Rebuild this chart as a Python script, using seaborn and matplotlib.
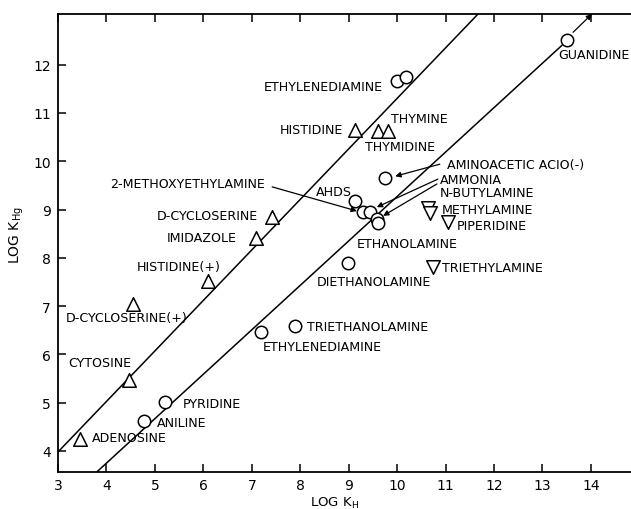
import numpy as np
import pandas as pd
import matplotlib
matplotlib.use("Agg")
import matplotlib.pyplot as plt
import seaborn as sns

# points (log K_H, log K_Hg)
tri_x = [3.45, 4.47, 4.55, 6.10, 7.08, 7.42, 9.13, 9.60, 9.81]
tri_y = [4.25, 5.48, 7.05, 7.52, 8.42, 8.85, 10.65, 10.62, 10.62]

circ_x = [4.78, 5.20, 7.19, 7.89, 8.99, 9.13, 9.30, 9.44, 9.58, 9.60, 9.75, 9.99, 10.18, 13.50]
circ_y = [4.62, 5.02, 6.47, 6.58, 7.90, 9.18, 8.95, 8.95, 8.80, 8.72, 9.65, 11.67, 11.74, 12.51]

inv_x = [10.64, 10.68, 11.05, 10.74]
inv_y = [9.03, 8.92, 8.74, 7.81]

# the two correlation lines (start x, start y, end x, end y)
upper_line = [3.0, 3.98, 11.67, 13.05]
lower_line = [3.80, 3.565, 13.40, 12.40]

x_ticks = list(range(3, 15))
y_ticks = list(range(4, 13))

label_text = ["ADENOSINE", "ANILINE", "PYRIDINE", "CYTOSINE", "D-CYCLOSERINE(+)",
              "HISTIDINE(+)", "IMIDAZOLE", "D-CYCLOSERINE", "2-METHOXYETHYLAMINE",
              "HISTIDINE", "ETHYLENEDIAMINE", "THYMINE", "THYMIDINE", "AHDS",
              "AMINOACETIC ACIO(-)", "AMMONIA", "N-BUTYLAMINE", "METHYLAMINE",
              "PIPERIDINE", "ETHANOLAMINE", "TRIETHYLAMINE", "DIETHANOLAMINE",
              "TRIETHANOLAMINE", "ETHYLENEDIAMINE", "GUANIDINE"]

# layout: where each label sits (x, y, horizontal alignment)
label_pos = [(3.70, 4.27, "left"), (5.04, 4.58, "left"), (5.58, 4.99, "left"),
             (3.21, 5.84, "left"), (3.17, 6.77, "left"), (4.63, 7.83, "left"),
             (5.25, 8.43, "left"), (5.04, 8.87, "left"), (4.07, 9.55, "left"),
             (8.88, 10.65, "right"), (9.71, 11.54, "right"), (9.87, 10.89, "left"),
             (9.34, 10.31, "left"), (9.07, 9.38, "right"), (11.03, 9.94, "left"),
             (10.88, 9.63, "left"), (10.88, 9.36, "left"), (10.93, 9.01, "left"),
             (11.24, 8.66, "left"), (9.17, 8.29, "left"), (10.93, 7.81, "left"),
             (8.35, 7.50, "left"), (8.14, 6.57, "left"), (7.23, 6.17, "left"),
             (13.33, 12.22, "left")]

# leader arrows: (from x, from y, to x, to y)
arrows = [(7.42, 9.47, 9.17, 8.97),
          (10.88, 9.94, 9.96, 9.69),
          (10.84, 9.63, 9.58, 9.05),
          (10.82, 9.53, 9.71, 8.87),
          (13.63, 12.67, 14.02, 13.05)]

df = pd.concat([
    pd.DataFrame({"x": tri_x, "y": tri_y, "kind": "tri"}),
    pd.DataFrame({"x": circ_x, "y": circ_y, "kind": "circ"}),
    pd.DataFrame({"x": inv_x, "y": inv_y, "kind": "inv"}),
], ignore_index=True)

sns.set_style("ticks")
plt.rcParams["font.family"] = ["DejaVu Sans"]
for key in ["text.color", "axes.labelcolor", "xtick.color", "ytick.color", "axes.edgecolor"]:
    plt.rcParams[key] = "black"

fig = plt.figure(figsize=(6.31, 5.10), dpi=100)
ax = fig.add_axes([58 / 631, 37 / 510, 1 - 58 / 631, 458 / 510])

lw = 1.1
ax.plot(upper_line[::2], upper_line[1::2], color="black", lw=lw, zorder=1)
ax.plot(lower_line[::2], lower_line[1::2], color="black", lw=lw, zorder=1)

marker_map = {"tri": ("^", 95), "circ": ("o", 80), "inv": ("v", 95)}
for kind, (mk, size) in marker_map.items():
    sub = df[df["kind"] == kind]
    sns.scatterplot(data=sub, x="x", y="y", marker=mk, s=size, color="white",
                    edgecolor="black", linewidth=1.1, zorder=3, legend=False, ax=ax)

for txt, (tx, ty, ha) in zip(label_text, label_pos):
    ax.text(tx, ty, txt, ha=ha, va="center", fontsize=9.1, zorder=4)

for x0, y0, x1, y1 in arrows:
    ax.annotate("", xy=(x1, y1), xytext=(x0, y0),
                arrowprops=dict(arrowstyle="-|>", color="black", lw=0.9,
                                mutation_scale=8, shrinkA=0, shrinkB=0), zorder=4)

ax.set_xlim(3, 3 + (631 - 58) / 48.45)
ax.set_ylim(3.565, 13.05)
ax.set_xticks(x_ticks)
ax.set_yticks(y_ticks)
ax.tick_params(axis="x", direction="in", length=6, width=1.1, top=True,
               labelsize=10, pad=4)
ax.tick_params(axis="y", direction="in", length=6, width=1.1, right=False,
               labelsize=10, pad=5)
for side in ["left", "bottom", "top"]:
    ax.spines[side].set_linewidth(1.3)
ax.spines["right"].set_visible(False)

ax.set_xlabel(r"LOG K$_\mathregular{H}$", fontsize=9.5)
ax.set_ylabel(r"LOG K$_\mathregular{Hg}$", fontsize=10)
ax.xaxis.set_label_coords(0.483, -0.049)
ax.yaxis.set_label_coords(-0.056, 0.52)

fig.savefig("out.png", dpi=100)
